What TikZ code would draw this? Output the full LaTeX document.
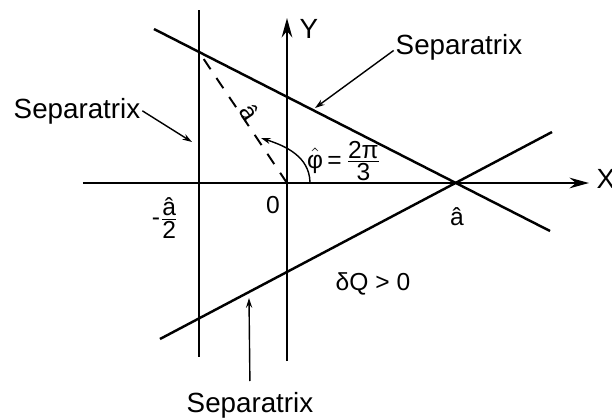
\documentclass[tikz,border=0pt]{standalone}
\usepackage{amsmath}
\usepackage{fontspec}
\setmainfont{Liberation Sans}
\usetikzlibrary{arrows.meta,positioning}

\newcommand{\tfr}[2]{\frac{\textstyle\text{#1}}{\textstyle\text{#2}}}

\begin{document}
\begin{tikzpicture}[
    x=0.02cm, y=0.02cm,
    axis/.style={-{Stealth[length=11pt,width=6pt]}, line width=1.5pt},
    sep/.style={line width=1.4pt},
    half/.style={line width=1.1pt, dash pattern=on 7pt off 6pt},
    lead/.style={-{Stealth[length=5.5pt,width=3.5pt]}, line width=0.8pt},
    lab/.style={font=\fontsize{15.8}{19}\selectfont, inner sep=1pt},
    mlab/.style={font=\fontsize{14}{17}\selectfont, inner sep=1pt},
]
\useasboundingbox (-287,-234) rectangle (325,183);
% Origin, \hat a on the X axis, and the upper corner of the triangle.
\coordinate (O) at (0,0);
\coordinate (A) at (168,0);
\coordinate (P) at (-88,131);

% Axes.
\coordinate (xl) at (-204,0);
\coordinate (xr) at (302,0);
\coordinate (yb) at (0,-178);
\coordinate (yt) at (0,165);
\draw[axis] (xl) -- (xr);
\draw[axis] (yb) -- (yt);
\node[lab, anchor=base] (X) at (319,-5) {X};
\node[lab, anchor=base] (Y) at (22,145) {Y};

% The three separatrices.
\coordinate (v1) at (-88,173);
\coordinate (v2) at (-88,-174);
\coordinate (d1) at (-133,154);
\coordinate (d2) at (263,-48);
\coordinate (u1) at (-127,-156);
\coordinate (u2) at (265,51);
\draw[sep] (v1) -- (v2);
\draw[sep] (d1) -- (d2);
\draw[sep] (u1) -- (u2);

% Radius to the corner and the angle.
\draw[half] (O) -- (P);
\node[mlab, rotate=-56] (ahat) at (-37,71) {â};
\coordinate (phi1) at (23,1);
\coordinate (phi2) at (-26,45);
\draw[lead] (phi1) to[out=92, in=-18] (phi2);
\node[mlab] (phi) at (57,22) {$\hat{\text{φ}}\,\text{=}\,\tfr{2π}{3}$};

% Axis marks.
\node[mlab] (mhalf) at (-122,-35) {$\text{-}\tfr{â}{2}$};
\node[mlab, anchor=base] (zero) at (-14,-30) {0};
\node[mlab, anchor=base] (aaxis) at (170,-42) {â};
\node[mlab, anchor=base] (dQ) at (86,-107) {δQ > 0};

% Labels with leaders.
\node[lab, anchor=base] (sTR) at (172,129) {Separatrix};
\node[lab, anchor=base] (sL) at (-210,65) {Separatrix};
\node[lab, anchor=base] (sB) at (-37,-229) {Separatrix};
\coordinate (tTR) at (28,75);
\coordinate (tL) at (-95,41);
\coordinate (tB) at (-38,-115);
\draw[lead] ([yshift=2pt]sTR.base west) -- (tTR);
\draw[lead] (sL.east) -- (tL);
\draw[lead, shorten <=5pt] (sB.north) -- (tB);
\end{tikzpicture}
\end{document}
